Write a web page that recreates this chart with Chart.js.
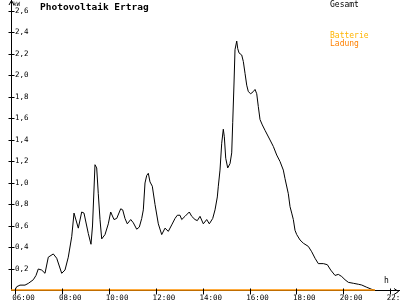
<!DOCTYPE html>
<html>
<head>
<meta charset="utf-8">
<title>Photovoltaik Ertrag</title>
<script src="https://cdn.jsdelivr.net/npm/chart.js@4.4.1/dist/chart.umd.min.js"></script>
<style>
    html, body { margin: 0; padding: 0; background: #fff; }
    #wrap { width: 400px; height: 300px; position: relative; }
</style>
</head>
<body>
<div id="wrap"><canvas id="pv-chart"></canvas></div>
<script>
// Gesamt (kW) over the day, hours as decimal time
const hours = [
    5.966, 6.051, 6.192, 6.406, 6.547, 6.761, 6.876, 6.974, 7.120, 7.261,
    7.402, 7.615, 7.761, 7.974, 8.115, 8.256, 8.402, 8.500, 8.684, 8.829,
    8.927, 9.111, 9.226, 9.291, 9.397, 9.470, 9.538, 9.611, 9.684, 9.825,
    9.966, 10.068, 10.209, 10.325, 10.496, 10.581, 10.679, 10.778, 10.923, 11.034,
    11.179, 11.291, 11.393, 11.462, 11.534, 11.607, 11.675, 11.748, 11.846, 11.962,
    12.103, 12.248, 12.389, 12.530, 12.675, 12.816, 12.915, 13.030, 13.103, 13.244,
    13.427, 13.530, 13.671, 13.769, 13.885, 14.026, 14.171, 14.282, 14.427, 14.526,
    14.624, 14.667, 14.739, 14.812, 14.880, 14.923, 14.983, 15.068, 15.167, 15.239,
    15.282, 15.338, 15.380, 15.453, 15.496, 15.551, 15.667, 15.735, 15.808, 15.880,
    15.949, 16.051, 16.162, 16.235, 16.308, 16.376, 16.449, 16.547, 16.662, 16.876,
    17.017, 17.162, 17.303, 17.444, 17.517, 17.658, 17.731, 17.803, 17.872, 17.944,
    18.017, 18.158, 18.299, 18.513, 18.658, 18.799, 18.940, 19.154, 19.325, 19.470,
    19.654, 19.795, 19.940, 20.081, 20.222, 20.436, 20.650, 20.795, 21.009, 21.222,
    21.363
];
const gesamtKw = [
    0.00, 0.035, 0.05, 0.05, 0.066, 0.10, 0.14, 0.20, 0.19, 0.16,
    0.31, 0.34, 0.30, 0.16, 0.19, 0.31, 0.50, 0.72, 0.58, 0.73,
    0.72, 0.53, 0.43, 0.60, 1.17, 1.14, 0.90, 0.66, 0.48, 0.52,
    0.62, 0.73, 0.66, 0.67, 0.76, 0.75, 0.67, 0.62, 0.66, 0.63,
    0.57, 0.59, 0.67, 0.75, 1.00, 1.07, 1.09, 1.01, 0.97, 0.80,
    0.62, 0.52, 0.58, 0.55, 0.61, 0.67, 0.70, 0.70, 0.66, 0.69,
    0.73, 0.69, 0.66, 0.65, 0.69, 0.62, 0.66, 0.62, 0.67, 0.75,
    0.87, 0.97, 1.12, 1.37, 1.50, 1.43, 1.23, 1.14, 1.18, 1.28,
    1.56, 1.93, 2.24, 2.32, 2.25, 2.21, 2.19, 2.13, 2.02, 1.91,
    1.85, 1.83, 1.85, 1.87, 1.83, 1.71, 1.59, 1.54, 1.49, 1.40,
    1.34, 1.26, 1.20, 1.12, 1.04, 0.90, 0.78, 0.72, 0.66, 0.56,
    0.52, 0.47, 0.44, 0.41, 0.36, 0.30, 0.25, 0.25, 0.24, 0.19,
    0.14, 0.15, 0.13, 0.10, 0.076, 0.067, 0.058, 0.051, 0.03, 0.011,
    0.00
];

// Batterie and Ladung stay at zero all day
const batterieHours = [5.81, 21.363];
const batterieKw = [0, 0];
const ladungHours = [5.81, 21.363];
const ladungKw = [0, 0];

const yTickValues = [0.2, 0.4, 0.6, 0.8, 1.0, 1.2, 1.4, 1.6, 1.8, 2.0, 2.2, 2.4, 2.6];
const xTickHours = [6, 8, 10, 12, 14, 16, 18, 20, 22];

const MONO = '"DejaVu Sans Mono", "Liberation Mono", monospace';

function toPoints(xs, ys) {
    return xs.map((x, i) => ({ x: x, y: ys[i] }));
}

function hourLabel(h) {
    return String(h).padStart(2, '0') + ':00';
}

// axis arrows, tick crosses, title, units and the text legend
const decorPlugin = {
    id: 'decor',
    afterDraw(chart) {
        const ctx = chart.ctx;
        const xs = chart.scales.x;
        const ys = chart.scales.y;
        const ax = Math.round(xs.left) + 0.5;
        const ay = Math.round(ys.bottom) + 0.5;

        ctx.save();
        ctx.strokeStyle = '#000';
        ctx.lineWidth = 1;
        ctx.beginPath();
        yTickValues.forEach(v => {
            const y = Math.round(ys.getPixelForValue(v)) + 0.5;
            ctx.moveTo(ax - 3, y);
            ctx.lineTo(ax + 3, y);
        });
        xTickHours.forEach(h => {
            const x = Math.round(xs.getPixelForValue(h)) + 0.5;
            ctx.moveTo(x, ay - 3);
            ctx.lineTo(x, ay + 3);
        });
        // arrow heads
        ctx.moveTo(ax - 2.5, 5);
        ctx.lineTo(ax, 0.5);
        ctx.lineTo(ax + 2.5, 5);
        ctx.moveTo(394, ay - 3);
        ctx.lineTo(398.5, ay);
        ctx.lineTo(394, ay + 3);
        ctx.stroke();

        ctx.fillStyle = '#000';
        ctx.textBaseline = 'middle';
        ctx.textAlign = 'left';
        ctx.font = 'bold 9.5px ' + MONO;
        ctx.fillText('Photovoltaik Ertrag', 40, 8);
        ctx.font = '6px ' + MONO;
        ctx.fillText('kW', 13, 4);
        ctx.font = '8px ' + MONO;
        ctx.fillText('h', 384, 281);

        const rowsY = [4.5, 36, 44];
        ctx.font = '8px ' + MONO;
        chart.data.datasets.forEach((ds, i) => {
            ctx.fillStyle = ds.borderColor;
            ctx.fillText(ds.label, 330, rowsY[i]);
        });
        ctx.restore();
    }
};

const ctx = document.getElementById('pv-chart').getContext('2d');
new Chart(ctx, {
    type: 'line',
    data: {
        datasets: [{
            label: 'Gesamt',
            data: toPoints(hours, gesamtKw),
            borderColor: '#000000',
            borderWidth: 1,
            pointRadius: 0,
            tension: 0,
            order: 3
        }, {
            label: 'Batterie',
            data: toPoints(batterieHours, batterieKw),
            borderColor: '#ffb400',
            borderWidth: 2,
            pointRadius: 0,
            order: 2
        }, {
            label: 'Ladung',
            data: toPoints(ladungHours, ladungKw),
            borderColor: '#ff8000',
            borderWidth: 2,
            pointRadius: 0,
            order: 1
        }]
    },
    options: {
        responsive: true,
        maintainAspectRatio: false,
        devicePixelRatio: 1,
        animation: false,
        layout: { padding: 0 },
        plugins: {
            legend: { display: false },
            tooltip: { enabled: false },
            title: { display: false }
        },
        scales: {
            x: {
                type: 'linear',
                min: 5.808,
                max: 22.43,
                grid: { display: false, drawTicks: false, tickLength: 0 },
                border: { display: true, color: '#000', width: 1 },
                afterBuildTicks: s => { s.ticks = xTickHours.map(v => ({ value: v })); },
                afterFit: s => { s.height = 9.5; s.paddingLeft = 0; s.paddingRight = 0; },
                ticks: {
                    autoSkip: false,
                    maxRotation: 0,
                    padding: 3,
                    labelOffset: 8,
                    color: '#000',
                    font: { family: MONO, size: 7.5 },
                    callback: v => hourLabel(v)
                }
            },
            y: {
                min: 0,
                max: 2.702,
                grid: { display: false, drawTicks: false, tickLength: 0 },
                border: { display: true, color: '#000', width: 1 },
                afterBuildTicks: s => { s.ticks = yTickValues.map(v => ({ value: v })); },
                afterFit: s => { s.width = 11; s.paddingTop = 0; s.paddingBottom = 0; },
                ticks: {
                    mirror: true,
                    padding: 4,
                    color: '#000',
                    font: { family: MONO, size: 7.5 },
                    callback: v => v.toFixed(1).replace('.', ',')
                }
            }
        }
    },
    plugins: [decorPlugin]
});
</script>
</body>
</html>
